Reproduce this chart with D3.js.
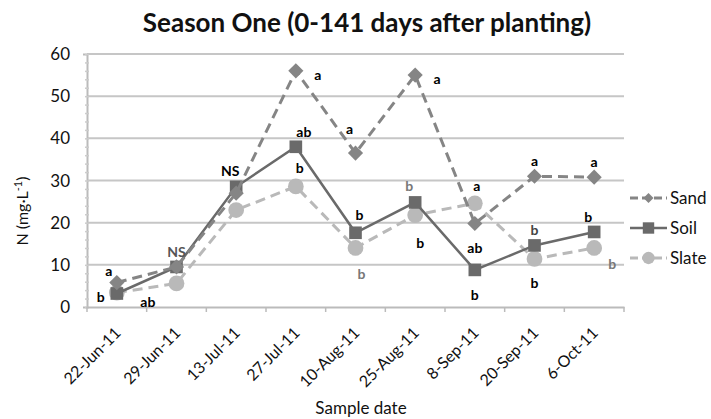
<!DOCTYPE html>
<html>
<head>
<meta charset="utf-8">
<script src="https://cdn.jsdelivr.net/npm/d3@7"></script>
<style>
body { margin: 0; background: #fff; }
text { font-family: Lato, "Open Sans", sans-serif; }
</style>
</head>
<body>
<svg id="chart" width="711" height="419"></svg>
<script>
// data
var dates = ['22-Jun-11','29-Jun-11','13-Jul-11','27-Jul-11','10-Aug-11','25-Aug-11','8-Sep-11','20-Sep-11','6-Oct-11'];
var sand  = [5.8, 9.5, 27, 56, 36.5, 55, 19.8, 31, 30.8];
var soil  = [3.2, 9.5, 28.5, 38, 17.6, 24.8, 8.8, 14.6, 17.8];
var slate = [3.4, 5.6, 23, 28.6, 14, 21.8, 24.6, 11.4, 14];
var yTicks = [0, 10, 20, 30, 40, 50, 60];

// significance letters (null = none drawn)
var sandLetters  = ['a', null, null, 'a', 'a', 'a', 'ab', 'a', 'a'];
var soilLetters  = ['b', 'NS', 'NS', 'ab', 'b', 'b', 'b', 'b', 'b'];
var slateLetters = ['ab', null, null, 'b', 'b', 'b', 'a', 'b', 'b'];

// label placement relative to the point, and colour
var sandPos  = [[-8,-12,'#000'],null,null,[22,4,'#000'],[-6,-24,'#000'],[22,4,'#000'],[0,24,'#000'],[0,-15,'#000'],[0,-15,'#000']];
var soilPos  = [[-16,3,'#000'],[0,-15,'#555'],[-6,-16,'#000'],[8,-15,'#000'],[4,-18,'#000'],[-6,-16,'#777'],[0,25,'#000'],[0,-15,'#444'],[-6,-15,'#000']];
var slatePos = [[31,9,'#000'],null,null,[4,-18,'#000'],[6,26,'#777'],[5,28,'#000'],[2,-17,'#000'],[0,24,'#000'],[18,16,'#777']];

var svg = d3.select('#chart');
var plotLeft = 87, plotRight = 624, plotTop = 54, plotBottom = 307;

var x = d3.scaleBand().domain(dates).range([plotLeft, plotRight]);
var y = d3.scaleLinear().domain([0, 60]).range([plotBottom, plotTop]);
var cx = function(i) { return x(dates[i]) + x.bandwidth() / 2; };

// gridlines
svg.append('g').selectAll('line').data(yTicks.slice(1)).enter().append('line')
	.attr('x1', plotLeft).attr('x2', plotRight)
	.attr('y1', d => y(d)).attr('y2', d => y(d))
	.attr('stroke', '#c6c6c6').attr('stroke-width', 2);

// y axis with minor ticks
var yAxis = svg.append('g').attr('transform', 'translate(' + plotLeft + ',0)')
	.call(d3.axisLeft(y).tickValues(d3.range(0, 61, 2)).tickSize(4).tickFormat(''));
yAxis.select('.domain').attr('stroke', '#bbb').attr('stroke-width', 2);
yAxis.selectAll('.tick line').attr('stroke', '#ccc').attr('stroke-width', 1.5).attr('transform', 'translate(2,0)');

svg.append('g').selectAll('text').data(yTicks).enter().append('text')
	.attr('x', 70).attr('y', d => y(d) + 6)
	.attr('text-anchor', 'end').attr('font-size', 17).attr('fill', '#111')
	.text(d => d);

// x axis
var xAxis = svg.append('g').attr('transform', 'translate(0,' + plotBottom + ')')
	.call(d3.axisBottom(x).tickSize(0).tickFormat(''));
xAxis.select('.domain').attr('stroke', '#bbb').attr('stroke-width', 2);
svg.append('g').selectAll('line').data(d3.range(dates.length + 1)).enter().append('line')
	.attr('x1', i => plotLeft + i * x.bandwidth()).attr('x2', i => plotLeft + i * x.bandwidth())
	.attr('y1', plotBottom).attr('y2', plotBottom + 5)
	.attr('stroke', '#bbb').attr('stroke-width', 1.5);

svg.append('g').selectAll('text').data(dates).enter().append('text')
	.attr('transform', (d, i) => 'translate(' + (cx(i) + 5) + ',' + (plotBottom + 27) + ') rotate(-45)')
	.attr('text-anchor', 'end').attr('font-size', 16).attr('fill', '#111')
	.text(d => d);

// series
var series = [
	{ name: 'Sand',  values: sand,  letters: sandLetters,  pos: sandPos,  color: '#858585', dash: '10,6', width: 3,   shape: d3.symbolSquare, size: 115, rot: 45, legendSize: 50 },
	{ name: 'Soil',  values: soil,  letters: soilLetters,  pos: soilPos,  color: '#6a6a6a', dash: null,   width: 2.5, shape: d3.symbolSquare, size: 160, rot: 0,  legendSize: 130 },
	{ name: 'Slate', values: slate, letters: slateLetters, pos: slatePos, color: '#b9b9b9', dash: '10,6', width: 3,   shape: d3.symbolCircle, size: 195, rot: 0,  legendSize: 120 }
];

var line = d3.line().x((d, i) => cx(i)).y(d => y(d));

// draw back to front: slate, soil, sand
series.slice().reverse().forEach(function(s) {
	svg.append('path').datum(s.values)
		.attr('d', line).attr('fill', 'none')
		.attr('stroke', s.color).attr('stroke-width', s.width)
		.attr('stroke-dasharray', s.dash);
	svg.append('g').selectAll('path').data(s.values).enter().append('path')
		.attr('transform', (d, i) => 'translate(' + cx(i) + ',' + y(d) + ') rotate(' + s.rot + ')')
		.attr('d', d3.symbol().type(s.shape).size(s.size))
		.attr('fill', s.color);
});

series.forEach(function(s) {
	var labels = [];
	s.values.forEach(function(v, i) {
		if (s.letters[i] !== null) labels.push({ i: i, v: v, text: s.letters[i], pos: s.pos[i] });
	});
	svg.append('g').selectAll('text').data(labels).enter().append('text')
		.attr('x', d => cx(d.i) + d.pos[0])
		.attr('y', d => y(d.v) + d.pos[1] + 5)
		.attr('text-anchor', 'middle').attr('font-size', 14).attr('font-weight', 'bold')
		.attr('fill', d => d.pos[2])
		.text(d => d.text);
});

// legend
var legend = svg.append('g').selectAll('g').data(series).enter().append('g')
	.attr('transform', (d, i) => 'translate(630,' + (198 + i * 30) + ')');
legend.append('line').attr('x1', 0).attr('x2', 37)
	.attr('stroke', d => d.color).attr('stroke-width', d => d.width)
	.attr('stroke-dasharray', d => d.dash ? '8,4' : null);
legend.append('path').attr('transform', d => 'translate(18.5,0) rotate(' + d.rot + ')')
	.attr('d', d => d3.symbol().type(d.shape).size(d.legendSize)())
	.attr('fill', d => d.color);
legend.append('text').attr('x', 40).attr('y', 6)
	.attr('font-size', 17).attr('fill', '#111').text(d => d.name);

// titles
svg.append('text').attr('x', 367).attr('y', 32).attr('text-anchor', 'middle')
	.attr('font-size', 26).attr('font-weight', 'bold').attr('fill', '#111')
	.text('Season One (0-141 days after planting)');
svg.append('text').attr('x', 361).attr('y', 414).attr('text-anchor', 'middle')
	.attr('font-size', 17).attr('fill', '#111').text('Sample date');
var yl = svg.append('text').attr('transform', 'translate(28,211) rotate(-90)')
	.attr('text-anchor', 'middle').attr('font-size', 16).attr('fill', '#111');
yl.append('tspan').text('N (mg·L');
yl.append('tspan').attr('dy', -6).attr('font-size', 11).text('-1');
yl.append('tspan').attr('dy', 6).text(')');
</script>
</body>
</html>
